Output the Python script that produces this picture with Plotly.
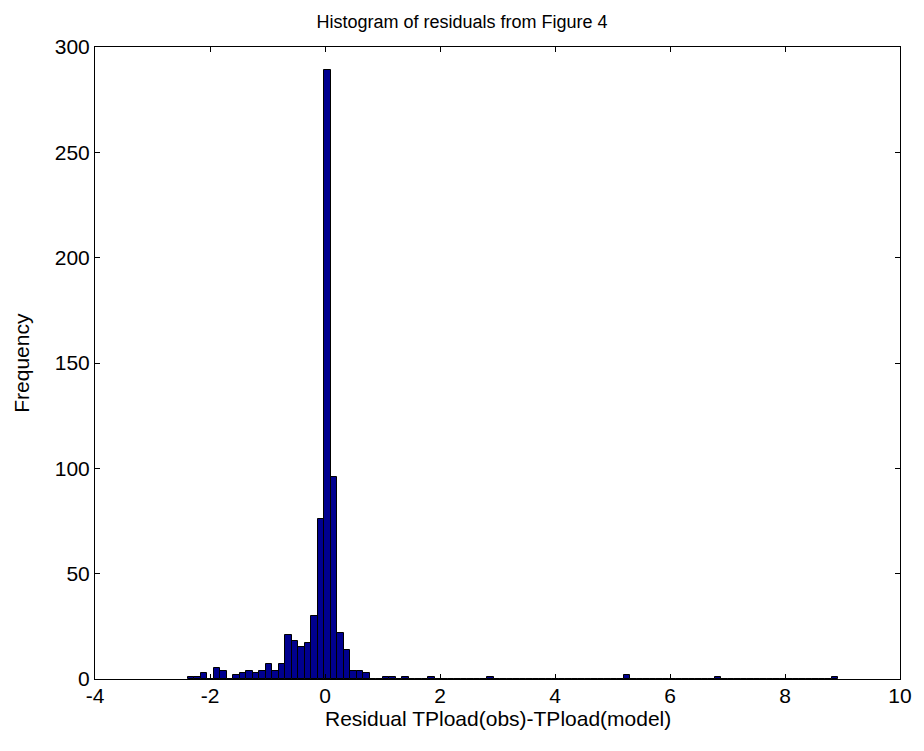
import numpy as np
import plotly.graph_objects as go

# Histogram: 100 equal bins between the data minimum and maximum
data_min = -2.39
data_max = 8.93
n_bins = 100

# Non-zero bin counts (bin index -> frequency); all other bins are 0
nonzero_bins = [0, 1, 2, 4, 5, 7, 8, 9, 10, 11, 12, 13, 14, 15, 16, 17, 18, 19,
                20, 21, 22, 23, 24, 25, 26, 27, 30, 31, 33, 37, 46, 67, 81, 99]
nonzero_counts = [1, 1, 3, 5, 4, 2, 3, 4, 3, 4, 7, 4, 7, 21, 18, 15, 17, 30,
                  76, 289, 96, 22, 14, 4, 4, 3, 1, 1, 1, 1, 1, 2, 1, 1]

x_ticks = [-4, -2, 0, 2, 4, 6, 8, 10]
y_ticks = [0, 50, 100, 150, 200, 250, 300]

edges = np.linspace(data_min, data_max, n_bins + 1)
centers = (edges[:-1] + edges[1:]) / 2
bin_width = edges[1] - edges[0]
counts = np.zeros(n_bins)
for b, c in zip(nonzero_bins, nonzero_counts):
    counts[b] = c

fig = go.Figure()
fig.add_trace(go.Bar(
    x=centers, y=counts, width=bin_width,
    marker=dict(color="rgb(0,0,143)", line=dict(color="black", width=1)),
    showlegend=False,
))

font = "Liberation Sans, Arial, sans-serif"
L, R, T, B = 95, 16, 47, 72
W, H = 924, 751
pw, ph = W - L - R, H - T - B

fig.update_layout(
    width=W, height=H,
    margin=dict(l=L, r=R, t=T, b=B),
    paper_bgcolor="white", plot_bgcolor="white",
    bargap=0,
    font=dict(family=font, size=21, color="black"),
    title=dict(text="Histogram of residuals from Figure 4", x=0.5, xanchor="center",
               y=1 - 22 / H, yanchor="middle", font=dict(size=18, color="black")),
    annotations=[
        dict(text="Residual TPload(obs)-TPload(model)", xref="paper", yref="paper",
             x=0.5, y=-(718 - (H - B)) / ph, xanchor="center", yanchor="middle",
             showarrow=False, font=dict(size=21)),
        dict(text="Frequency", xref="paper", yref="paper", textangle=-90,
             x=-(L - 20) / pw, y=0.5, xanchor="center", yanchor="middle",
             showarrow=False, font=dict(size=21)),
    ],
)
fig.update_xaxes(
    range=[-4, 10], tickvals=x_ticks, ticktext=[str(v) for v in x_ticks],
    showline=True, linecolor="black", linewidth=1, mirror="allticks",
    ticks="inside", ticklen=5, tickcolor="black", showgrid=False, zeroline=False,
    tickfont=dict(size=21), ticklabelstandoff=-2,
)
fig.update_yaxes(
    range=[0, 300], tickvals=y_ticks, ticktext=[str(v) for v in y_ticks],
    showline=True, linecolor="black", linewidth=1, mirror="allticks",
    ticks="inside", ticklen=5, tickcolor="black", showgrid=False, zeroline=False,
    tickfont=dict(size=21),
)

fig.write_html("out.html")
